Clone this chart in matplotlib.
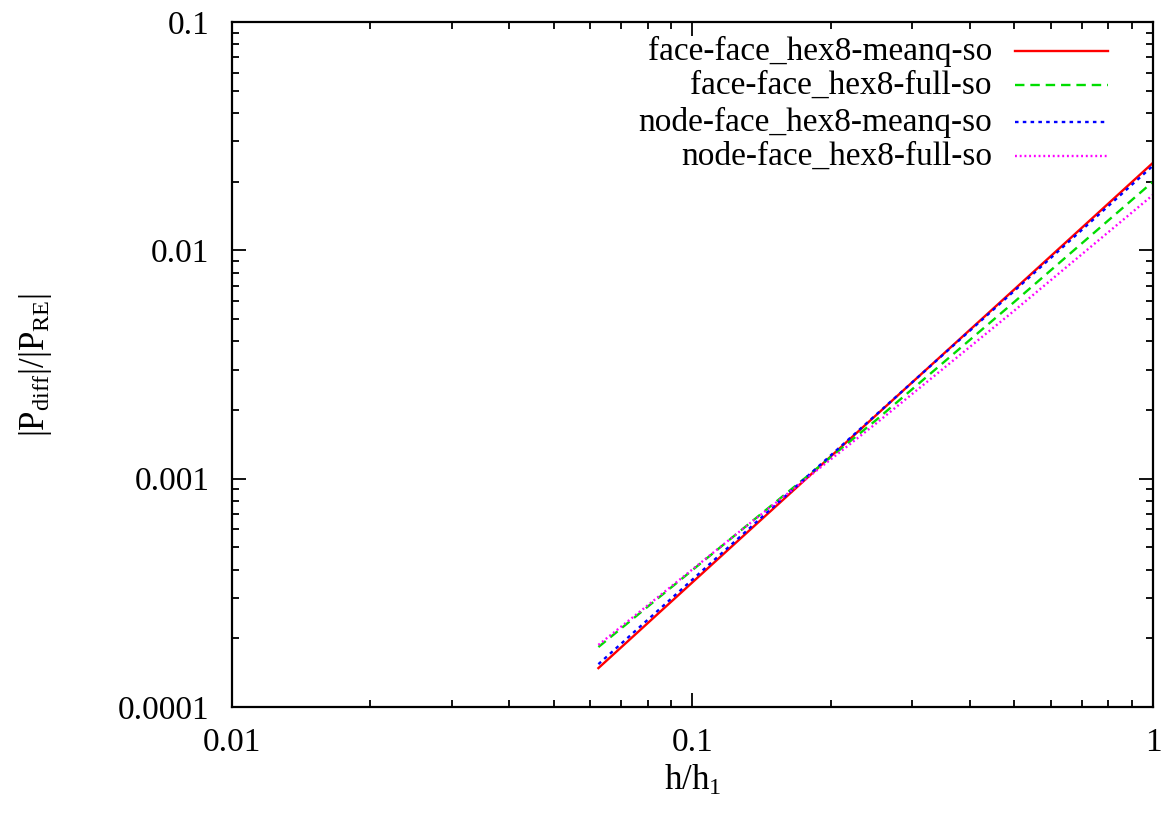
import matplotlib
matplotlib.use("Agg")
import matplotlib.pyplot as plt
from matplotlib.ticker import LogLocator, FixedFormatter, FixedLocator, NullFormatter

# Mesh refinement ratio h/h1 and relative pressure difference per method
h_ratio = [0.0625, 0.125, 0.25, 0.5, 1.0]
ff_meanq = [1.48e-4, 5.30e-4, 1.89e-3, 6.75e-3, 2.42e-2]
ff_full = [1.83e-4, 5.75e-4, 1.80e-3, 5.95e-3, 2.00e-2]
nf_meanq = [1.54e-4, 5.42e-4, 1.90e-3, 6.65e-3, 2.35e-2]
nf_full = [1.87e-4, 5.75e-4, 1.74e-3, 5.45e-3, 1.75e-2]

labels = ["face-face_hex8-meanq-so", "face-face_hex8-full-so",
          "node-face_hex8-meanq-so", "node-face_hex8-full-so"]
x_ticks = [0.01, 0.1, 1]
x_tick_labels = ["0.01", "0.1", "1"]
y_ticks = [0.0001, 0.001, 0.01, 0.1]
y_tick_labels = ["0.0001", "0.001", "0.01", "0.1"]

plt.rcParams["font.family"] = ["Liberation Serif", "DejaVu Serif"]
plt.rcParams["mathtext.fontset"] = "custom"
plt.rcParams["mathtext.rm"] = "Liberation Serif"
plt.rcParams["mathtext.it"] = "Liberation Serif:italic"

fig = plt.figure(figsize=(11.65, 8.19), dpi=100)
ax = fig.add_axes([0.199, 0.1368, 0.7907, 0.8362])

styles = [
    dict(color="#ff0000", linestyle="-"),
    dict(color="#00dd00", linestyle=(0, (4, 2.5))),
    dict(color="#0000ff", linestyle=(0, (1.5, 1.8))),
    dict(color="#ff00ff", linestyle=(0, (0.8, 1.2))),
]
series = [ff_meanq, ff_full, nf_meanq, nf_full]
for ys, st in zip(series, styles):
    ax.plot(h_ratio, ys, linewidth=1.7, **st)

ax.set_xscale("log")
ax.set_yscale("log")
ax.set_xlim(0.01, 1)
ax.set_ylim(0.0001, 0.1)

ax.xaxis.set_major_locator(FixedLocator(x_ticks))
ax.xaxis.set_major_formatter(FixedFormatter(x_tick_labels))
ax.yaxis.set_major_locator(FixedLocator(y_ticks))
ax.yaxis.set_major_formatter(FixedFormatter(y_tick_labels))
ax.xaxis.set_minor_locator(LogLocator(base=10, subs=range(2, 10)))
ax.yaxis.set_minor_locator(LogLocator(base=10, subs=range(2, 10)))
ax.xaxis.set_minor_formatter(NullFormatter())
ax.yaxis.set_minor_formatter(NullFormatter())

ax.tick_params(which="both", direction="in", top=True, right=True,
               labelsize=24, width=1.3, colors="black")
ax.tick_params(which="major", length=10)
ax.tick_params(which="minor", length=5)
ax.tick_params(axis="y", which="major", pad=16)
ax.tick_params(axis="x", which="major", pad=15)
for sp in ax.spines.values():
    sp.set_linewidth(1.6)

ax.set_xlabel(r"$\mathrm{h/h_1}$", fontsize=25, labelpad=4)
ax.set_ylabel(r"$\mathrm{|P_{diff}|/|P_{RE}|}$", fontsize=25, labelpad=46)

# Key in the upper right: right-aligned labels followed by line samples
row_y = [0.9575, 0.9075, 0.8535, 0.8045]
for lab, st, yy in zip(labels, styles, row_y):
    ax.text(0.825, yy, lab, transform=ax.transAxes, ha="right", va="center",
            fontsize=24)
    ax.plot([0.850, 0.951], [yy, yy], transform=ax.transAxes,
            linewidth=1.7, **st)

fig.savefig("out.png", dpi=100, facecolor="white")
